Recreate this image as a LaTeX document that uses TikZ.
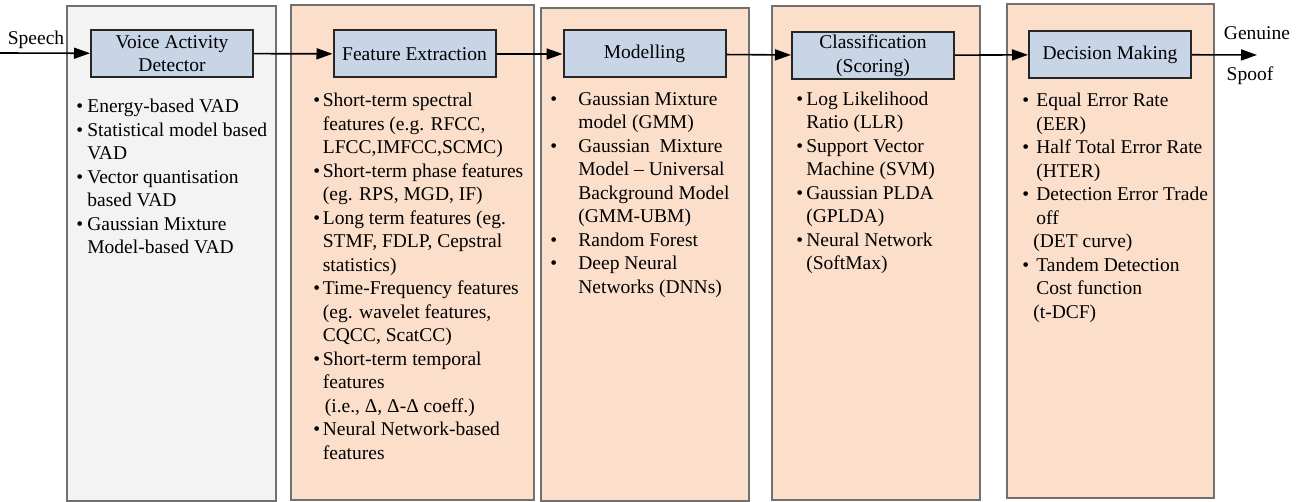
\documentclass[tikz,border=0pt]{standalone}
\usepackage{fontspec}
\setmainfont{LiberationSerif}[Extension=.ttf, UprightFont=*-Regular,
  BoldFont=*-Bold, ItalicFont=*-Italic, BoldItalicFont=*-BoldItalic]
\usetikzlibrary{arrows.meta,fit,positioning}

\definecolor{vadgray}{HTML}{F3F3F3}
\definecolor{peach}{HTML}{FBDFCA}
\definecolor{stageblue}{HTML}{C7D5E7}
\definecolor{rimgray}{HTML}{707070}

\tikzset{
  panel/.style={draw=rimgray, line width=0.75pt, fill=peach, inner sep=0pt},
  stage/.style={draw=black!85, line width=1pt, fill=stageblue,
    minimum width=81pt, minimum height=23.5pt, align=center, inner sep=1pt,
    font=\fontsize{9.75pt}{11.75pt}\selectfont},
  items/.style={anchor=base west, inner sep=0pt,
    font=\fontsize{9.75pt}{11.75pt}\selectfont},
  tag/.style={inner sep=0pt, font=\fontsize{9.75pt}{11.75pt}\selectfont},
  flow/.style={-{Triangle[length=8pt,width=5.5pt]}, line width=0.8pt}
}

\begin{document}
\begin{tikzpicture}[x=0.5pt,y=-0.5pt]
  \useasboundingbox (0,0) rectangle (1303,502);

  % background panels
  \node (panA) [panel, fill=vadgray, fit={(67,6) (276,501)}] {};
  \node (panB) [panel, fit={(291,5) (534,500)}] {};
  \node (panC) [panel, fit={(541,8) (749,501)}] {};
  \node (panD) [panel, fit={(772,6) (980,500)}] {};
  \node (panE) [panel, fit={(1007,4) (1214,498)}] {};

  % stages
  \node (vad) [stage] at (172,53.5) {Voice Activity\\Detector};
  \node (fe)  [stage] at (414.5,54) {Feature Extraction};
  \node (mod) [stage] at (644.5,54) {Modelling};
  \node (cls) [stage] at (873,55.5) {Classification\\(Scoring)};
  \node (dm)  [stage] at (1110,54.5) {Decision Making};

  % lists
  \node (vadlist) [items] at (76,113) {\begin{tabular}[t]{@{}p{5.5pt}@{}l@{}}
    \textbullet & Energy-based VAD\\
    \textbullet & Statistical model based\\
                & VAD\\
    \textbullet & Vector quantisation\\
                & based VAD\\
    \textbullet & Gaussian Mixture\\
                & Model-based VAD
  \end{tabular}};
  \node (felist) [items] at (313,107) {\begin{tabular}[t]{@{}p{4.75pt}@{}l@{}}
    \textbullet & Short-term spectral\\
                & features (e.g. RFCC,\\
                & LFCC,IMFCC,SCMC)\\
    \textbullet & Short-term phase features\\
                & (eg. RPS, MGD, IF)\\
    \textbullet & Long term features (eg.\\
                & STMF, FDLP, Cepstral\\
                & statistics)\\
    \textbullet & Time-Frequency features\\
                & (eg. wavelet features,\\
                & CQCC, ScatCC)\\
    \textbullet & Short-term temporal\\
                & features\\
                & \hspace*{1pt}(i.e., Δ, Δ-Δ coeff.)\\
    \textbullet & Neural Network-based\\
                & features
  \end{tabular}};
  \node (modlist) [items] at (550,105.5) {\begin{tabular}[t]{@{}p{14pt}@{}l@{}}
    \textbullet & Gaussian Mixture\\
                & model (GMM)\\
    \textbullet & Gaussian\ \ Mixture\\
                & Model -- Universal\\
                & Background Model\\
                & (GMM-UBM)\\
    \textbullet & Random Forest\\
    \textbullet & Deep Neural\\
                & Networks (DNNs)
  \end{tabular}};
  \node (clslist) [items] at (796,105.5) {\begin{tabular}[t]{@{}p{5pt}@{}l@{}}
    \textbullet & Log Likelihood\\
                & Ratio (LLR)\\
    \textbullet & Support Vector\\
                & Machine (SVM)\\
    \textbullet & Gaussian PLDA\\
                & (GPLDA)\\
    \textbullet & Neural Network\\
                & (SoftMax)
  \end{tabular}};
  \node (dmlist) [items] at (1022,107) {\begin{tabular}[t]{@{}p{7pt}@{}l@{}}
    \textbullet & Equal Error Rate\\
                & (EER)\\
    \textbullet & Half Total Error Rate\\
                & (HTER)\\
    \textbullet & Detection Error Trade\\
                & off\\
                & \hspace*{-1.5pt}(DET curve)\\
    \textbullet & Tandem Detection\\
                & Cost function\\
                & \hspace*{-1.5pt}(t-DCF)
  \end{tabular}};

  % input and output
  \coordinate (src) at (0,53);
  \coordinate (sink) at (1257,55);
  \node (speech)  [tag] at (36,40) {Speech};
  \node (genuine) [tag] at (1257,33) {Genuine};
  \node (spoof)   [tag] at (1250,76) {Spoof};

  % flow
  \draw[flow] (src) -- (vad);
  \draw[flow] (vad) -- (fe);
  \draw[flow] (fe) -- (mod);
  \draw[flow] (mod) -- (cls);
  \draw[flow] (cls) -- (dm);
  \draw[flow] (dm) -- (sink);
\end{tikzpicture}
\end{document}
